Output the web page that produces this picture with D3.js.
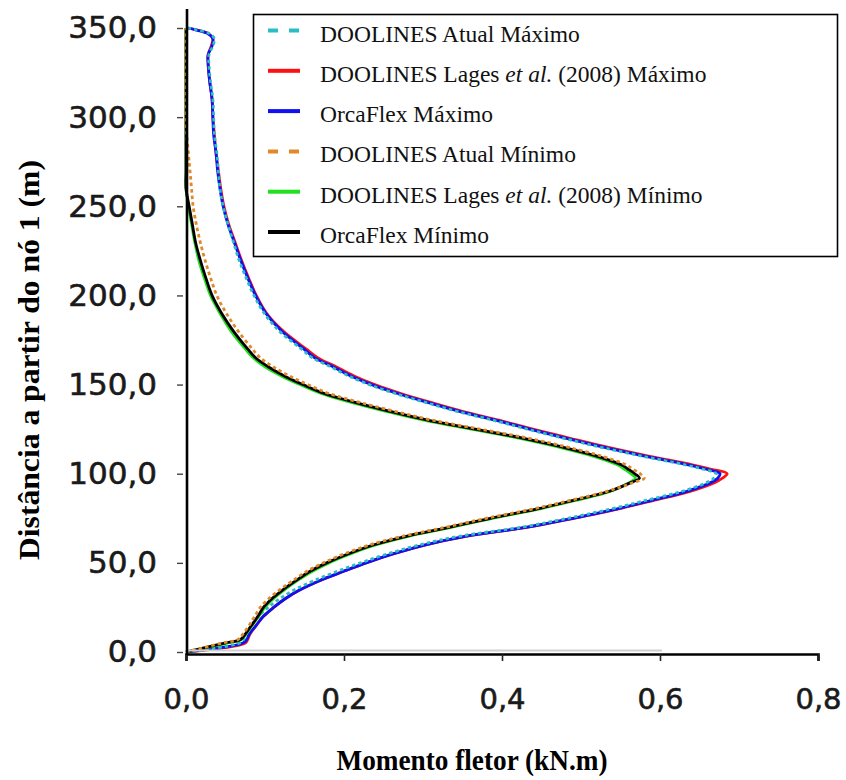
<!DOCTYPE html>
<html>
<head>
<meta charset="utf-8">
<script src="https://cdn.jsdelivr.net/npm/d3@7/dist/d3.min.js"></script>
<style>
  html, body { margin: 0; padding: 0; background: #fff; }
  svg { display: block; }
</style>
</head>
<body>
<svg id="chart" width="846" height="780"></svg>
<script>
// Distance along the line from node 1 (m)
const distance = [0, 5, 7, 10, 15, 20, 25, 30, 35, 40,
  45, 50, 55, 60, 65, 70, 75, 80, 85, 90,
  95, 97.5, 100, 102.5, 105, 110, 115, 120, 125, 130,
  135, 140, 145, 150, 155, 160, 165, 170, 180, 190,
  200, 210, 220, 230, 240, 250, 260, 270, 280, 290,
  300, 310, 320, 330, 335, 340, 344, 347, 349, 350];

// Bending moment envelopes (kN.m) at each distance
const atualMax = [0, 0.068, 0.073, 0.076, 0.083, 0.092, 0.104, 0.119, 0.138, 0.162,
  0.190, 0.221, 0.255, 0.295, 0.347, 0.425, 0.483, 0.536, 0.582, 0.627,
  0.659, 0.668, 0.671, 0.655, 0.632, 0.576, 0.524, 0.477, 0.432, 0.389,
  0.343, 0.303, 0.265, 0.232, 0.205, 0.183, 0.160, 0.146, 0.118, 0.099,
  0.086, 0.076, 0.067, 0.060, 0.053, 0.047, 0.043, 0.041, 0.039, 0.036,
  0.035, 0.034, 0.031, 0.029, 0.029, 0.034, 0.036, 0.029, 0.013, 0.003];

const lagesMax = [0, 0.075, 0.078, 0.081, 0.089, 0.098, 0.111, 0.126, 0.145, 0.169,
  0.198, 0.228, 0.262, 0.302, 0.356, 0.433, 0.491, 0.545, 0.592, 0.637,
  0.669, 0.679, 0.685, 0.665, 0.641, 0.584, 0.532, 0.485, 0.439, 0.396,
  0.350, 0.310, 0.272, 0.239, 0.212, 0.190, 0.167, 0.152, 0.123, 0.102,
  0.089, 0.079, 0.070, 0.062, 0.054, 0.048, 0.044, 0.041, 0.038, 0.036,
  0.034, 0.033, 0.030, 0.028, 0.028, 0.032, 0.034, 0.028, 0.013, 0.003];

const orcaMax = [0, 0.072, 0.077, 0.080, 0.089, 0.098, 0.111, 0.126, 0.145, 0.169,
  0.198, 0.228, 0.262, 0.302, 0.355, 0.432, 0.490, 0.543, 0.589, 0.633,
  0.664, 0.673, 0.676, 0.659, 0.636, 0.579, 0.527, 0.480, 0.435, 0.392,
  0.346, 0.306, 0.268, 0.235, 0.208, 0.186, 0.163, 0.149, 0.121, 0.101,
  0.088, 0.078, 0.069, 0.061, 0.053, 0.047, 0.043, 0.040, 0.038, 0.035,
  0.034, 0.033, 0.030, 0.028, 0.028, 0.033, 0.034, 0.027, 0.012, 0.003];

const atualMin = [0, 0.046, 0.066, 0.072, 0.080, 0.087, 0.094, 0.105, 0.119, 0.135,
  0.152, 0.174, 0.200, 0.232, 0.275, 0.329, 0.380, 0.437, 0.486, 0.532,
  0.566, 0.580, 0.575, 0.566, 0.557, 0.525, 0.482, 0.432, 0.372, 0.312,
  0.264, 0.220, 0.181, 0.154, 0.130, 0.110, 0.094, 0.084, 0.066, 0.051,
  0.039, 0.031, 0.024, 0.018, 0.013, 0.009, 0.007, 0.005, 0.003, 0.001,
  0, 0, 0, 0, 0, 0, 0, 0, 0, 0];

const lagesMin = [0, 0.052, 0.070, 0.076, 0.084, 0.092, 0.100, 0.111, 0.125, 0.141,
  0.159, 0.181, 0.208, 0.240, 0.283, 0.337, 0.388, 0.445, 0.493, 0.537,
  0.561, 0.569, 0.563, 0.555, 0.546, 0.514, 0.471, 0.421, 0.361, 0.301,
  0.253, 0.209, 0.171, 0.144, 0.120, 0.100, 0.085, 0.075, 0.057, 0.043,
  0.031, 0.023, 0.016, 0.011, 0.007, 0.003, 0, 0, 0, 0,
  0, 0, 0, 0, 0, 0, 0, 0, 0, 0];

const orcaMin = [0, 0.049, 0.069, 0.075, 0.083, 0.091, 0.098, 0.109, 0.123, 0.139,
  0.156, 0.178, 0.205, 0.237, 0.280, 0.334, 0.385, 0.442, 0.490, 0.535,
  0.563, 0.574, 0.568, 0.560, 0.551, 0.519, 0.476, 0.426, 0.366, 0.306,
  0.258, 0.214, 0.175, 0.148, 0.124, 0.104, 0.088, 0.078, 0.060, 0.045,
  0.033, 0.025, 0.018, 0.012, 0.008, 0.004, 0, 0, 0, 0,
  0, 0, 0, 0, 0, 0, 0, 0, 0, 0];

// Axis ticks
const xTicks = [0, 0.2, 0.4, 0.6, 0.8];
const yTicks = [0, 50, 100, 150, 200, 250, 300, 350];

// Legend labels, split into [text, italic] runs
const legendLabels = [
  [["DOOLINES Atual Máximo", false]],
  [["DOOLINES Lages ", false], ["et al.", true], [" (2008) Máximo", false]],
  [["OrcaFlex Máximo", false]],
  [["DOOLINES Atual Mínimo", false]],
  [["DOOLINES Lages ", false], ["et al.", true], [" (2008) Mínimo", false]],
  [["OrcaFlex Mínimo", false]]
];

const seriesStyle = [
  { values: atualMax, color: "#2bbdc4", dash: true },
  { values: lagesMax, color: "#ff1010", dash: false },
  { values: orcaMax,  color: "#1010f0", dash: false },
  { values: atualMin, color: "#e0882a", dash: true },
  { values: lagesMin, color: "#20e020", dash: false },
  { values: orcaMin,  color: "#000000", dash: false }
];

const svg = d3.select("#chart");

const x = d3.scaleLinear().domain([0, 0.8]).range([186, 818]);
const y = d3.scaleLinear().domain([0, 350]).range([652, 28]);

const ptBR = d3.formatLocale({ decimal: ",", thousands: ".", grouping: [3], currency: ["R$", ""] });
const fmt = ptBR.format(".1f");

// Curves (drawn in stacking order)
const line = d3.line()
  .x(d => x(d[0]))
  .y(d => y(d[1]))
  .curve(d3.curveCatmullRom.alpha(0.5));

const drawOrder = [1, 2, 0, 4, 5, 3];
const curves = svg.append("g").attr("class", "curves");
drawOrder.forEach(i => {
  const s = seriesStyle[i];
  const pts = distance.map((d, k) => [s.values[k], d]);
  curves.append("path")
    .attr("d", line(pts))
    .attr("fill", "none")
    .attr("stroke", s.color)
    .attr("stroke-width", 2.8)
    .attr("stroke-linejoin", "round")
    .attr("stroke-dasharray", s.dash ? "3.5,3" : null);
});

// Faint grey baseline under the x axis
svg.append("line")
  .attr("x1", x(0)).attr("x2", x(0.6) + 2)
  .attr("y1", 650.5).attr("y2", 650.5)
  .attr("stroke", "#cfcfcf").attr("stroke-width", 2);

// X axis
const xAxis = svg.append("g")
  .attr("transform", "translate(0,654)")
  .call(d3.axisBottom(x).tickValues(xTicks).tickFormat(fmt).tickSize(7).tickPadding(27));
xAxis.select(".domain").attr("stroke", "#000").attr("stroke-width", 2.6);
xAxis.selectAll(".tick line").attr("stroke", "#222").attr("stroke-width", 1.6);
xAxis.selectAll(".tick text")
  .attr("font-family", "'DejaVu Sans', Verdana, sans-serif")
  .attr("font-size", 29)
  .attr("fill", "#1a1a1a")
  .attr("stroke", "#1a1a1a")
  .attr("stroke-width", 0.6);

// Y axis
const yAxis = svg.append("g")
  .attr("transform", "translate(183,0)")
  .call(d3.axisLeft(y).tickValues(yTicks).tickFormat(fmt).tickSize(6).tickPadding(20));
yAxis.select(".domain").remove();
yAxis.selectAll(".tick line").attr("stroke", "#444").attr("stroke-width", 1.4);
yAxis.selectAll(".tick text")
  .attr("font-family", "'DejaVu Sans', Verdana, sans-serif")
  .attr("font-size", 31)
  .attr("fill", "#1a1a1a")
  .attr("stroke", "#1a1a1a")
  .attr("stroke-width", 0.6);

svg.append("line")
  .attr("x1", 187).attr("x2", 187)
  .attr("y1", 9).attr("y2", 655)
  .attr("stroke", "#000").attr("stroke-width", 2.6);

// Axis titles
svg.append("text")
  .attr("transform", "translate(28,360) rotate(-90)")
  .attr("text-anchor", "middle")
  .attr("dy", "0.35em")
  .attr("font-family", "'Liberation Serif', 'Times New Roman', serif")
  .attr("font-weight", "bold")
  .attr("font-size", 30)
  .attr("textLength", 400)
  .attr("lengthAdjust", "spacingAndGlyphs")
  .attr("fill", "#000")
  .text("Distância a partir do nó 1 (m)");

svg.append("text")
  .attr("x", 472).attr("y", 770)
  .attr("text-anchor", "middle")
  .attr("font-family", "'Liberation Serif', 'Times New Roman', serif")
  .attr("font-weight", "bold")
  .attr("font-size", 30)
  .attr("textLength", 271)
  .attr("lengthAdjust", "spacingAndGlyphs")
  .attr("fill", "#000")
  .text("Momento fletor (kN.m)");

// Legend
const legend = svg.append("g");
legend.append("rect")
  .attr("x", 253.5).attr("y", 14.5)
  .attr("width", 584).attr("height", 242)
  .attr("fill", "#fff")
  .attr("stroke", "#000").attr("stroke-width", 1.6);

const rowStep = 40.3;
legendLabels.forEach((runs, i) => {
  const cy = 33.5 + i * rowStep;
  const s = seriesStyle[i];
  legend.append("line")
    .attr("x1", 268).attr("x2", 300)
    .attr("y1", cy - 3).attr("y2", cy - 3)
    .attr("stroke", s.color)
    .attr("stroke-width", 4)
    .attr("stroke-dasharray", s.dash ? "10,11" : null);
  const t = legend.append("text")
    .attr("x", 320).attr("y", cy + 8)
    .attr("font-family", "'Liberation Serif', 'Times New Roman', serif")
    .attr("font-size", 23.5)
    .attr("fill", "#111");
  runs.forEach(([txt, it]) => {
    t.append("tspan")
      .attr("font-style", it ? "italic" : "normal")
      .attr("xml:space", "preserve")
      .text(txt);
  });
});
</script>
</body>
</html>
